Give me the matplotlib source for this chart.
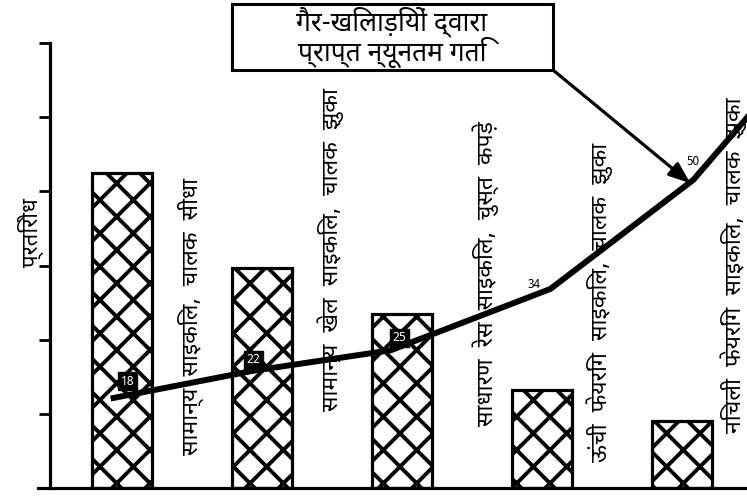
import matplotlib
matplotlib.use("Agg")
import matplotlib.pyplot as plt
from matplotlib.patches import Rectangle
from matplotlib.transforms import blended_transform_factory

plt.rcParams['font.family'] = ['Noto Sans Devanagari', 'Hind', 'Mukta', 'DejaVu Sans']
plt.rcParams['hatch.linewidth'] = 2.8

# data
categories = [
    "सामान्य  साइकिल,  चालक  सीधा",
    "सामान्य  खेल  साइकिल,  चालक  झुका",
    "साधारण  रेस  साइकिल,  चुस्त  कपड़े",
    "ऊंची  फेयरिंग  साइकिल,  चालक  झुका",
    "निचली  फेयरिंग  साइकिल,  चालक  झुका",
]
resistance = [4.25, 2.96, 2.35, 1.32, 0.90]
speed_x = [-0.06, 0.94, 1.92, 3.06, 4.08, 4.5]
speed = [18, 22, 25, 34, 50, 60]
speed_labels = ["18", "22", "25", "34", "50"]
boxed = [True, True, True, False, False]
# where the vertical labels sit (x in bar units, y as axes fraction)
label_x = [0.49, 1.49, 2.6, 3.41, 4.37]
label_y = [0.385, 0.535, 0.483, 0.418, 0.5]

fig = plt.figure(figsize=(7.47, 4.97), dpi=100)
ax = fig.add_axes([50 / 747, 9 / 497, 697 / 747, 445 / 497])

x = list(range(len(categories)))
ax.bar(x, resistance, width=0.43, color="white", edgecolor="black",
       linewidth=2.3, hatch="x", zorder=2)

ax.set_xlim(-0.514, 4.464)
ax.set_ylim(0, 6)
ax.set_yticks(range(7))
ax.set_yticklabels([])
ax.set_xticks([])
ax.tick_params(axis="y", direction="out", length=8, width=2)
for s in ["top", "right"]:
    ax.spines[s].set_visible(False)
ax.spines["left"].set_linewidth(2.3)
ax.spines["bottom"].set_linewidth(2.3)
ax.spines["bottom"].set_bounds(-0.6, 4.464)
ax.spines["bottom"].set_clip_on(False)

ax.set_ylabel("प्रतिरोध", fontsize=16, fontweight="bold")
ax.yaxis.set_label_coords(-0.009, 0.575)

# vertical category labels beside each bar
trans = blended_transform_factory(ax.transData, ax.transAxes)
for i, name in enumerate(categories):
    ax.text(label_x[i], label_y[i], name, transform=trans,
            rotation=90, ha="center", va="center", fontsize=16.5)

ax2 = ax.twinx()
ax2.set_ylim(4.78, 70.1)
ax2.axis("off")
ax2.plot(speed_x, speed, color="black", linewidth=4.3, zorder=5,
         solid_joinstyle="miter", clip_on=True)

offsets = [(10, 12), (0, 8), (6, 9), (-12, 3), (0, 13)]
for i, lab in enumerate(speed_labels):
    if boxed[i]:
        ax2.annotate(lab, (speed_x[i], speed[i]), xytext=offsets[i],
                     textcoords="offset points", ha="center", va="center",
                     fontsize=9, fontweight="bold", color="white",
                     bbox=dict(boxstyle="square,pad=0.2", fc="black", ec="black"))
    else:
        ax2.annotate(lab, (speed_x[i], speed[i]), xytext=offsets[i],
                     textcoords="offset points", ha="center", va="center",
                     fontsize=8.5, fontweight="bold", color="black")

# callout box with arrow to the 50 point
fig.patches.append(Rectangle((232 / 747, 1 - 70 / 497), 321 / 747, 66 / 497,
                             transform=fig.transFigure, fc="white", ec="black",
                             lw=2.2, zorder=10))
fig.text(392 / 747, 1 - 37 / 497, "गैर-खिलाड़ियों द्वारा\nप्राप्त न्यूनतम गति",
         ha="center", va="center", fontsize=19, style="italic",
         linespacing=1.0, zorder=11)
ax2.annotate("", xy=(speed_x[4] - 0.02, speed[4] - 0.5), xycoords="data",
             xytext=(553 / 747, 1 - 70 / 497), textcoords="figure fraction",
             arrowprops=dict(arrowstyle="-|>,head_length=1.3,head_width=0.5",
                             color="black", lw=2.3, shrinkA=0, shrinkB=0))

fig.savefig("out.png", dpi=100)
